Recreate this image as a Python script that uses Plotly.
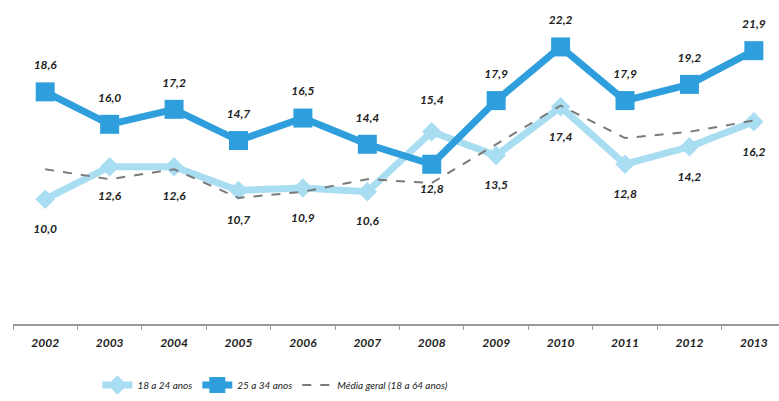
import plotly.graph_objects as go

years = ["2002", "2003", "2004", "2005", "2006", "2007", "2008", "2009", "2010", "2011", "2012", "2013"]
age_18_24 = [10.0, 12.6, 12.6, 10.7, 10.9, 10.6, 15.4, 13.5, 17.4, 12.8, 14.2, 16.2]
age_25_34 = [18.6, 16.0, 17.2, 14.7, 16.5, 14.4, 12.8, 17.9, 22.2, 17.9, 19.2, 21.9]
media_geral = [12.4, 11.6, 12.4, 10.1, 10.6, 11.6, 11.3, 14.4, 17.5, 14.9, 15.4, 16.3]

# label placement per point
pos_18_24 = ["bottom center"] * 6 + ["top center"] + ["bottom center"] * 5
pos_25_34 = ["top center"] * 6 + ["bottom center"] + ["top center"] * 5

names = ["18 a 24 anos", "25 a 34 anos", "Média geral (18 a 64 anos)"]

def fmt(v):
    return f"{v:.1f}".replace(".", ",")

label_font = dict(family="Lato", size=12, color="#222222", weight="bold", style="italic")

fig = go.Figure()
fig.add_trace(go.Scatter(
    x=years, y=age_18_24, name=names[0], mode="lines+markers",
    line=dict(color="#A9DDF1", width=7),
    marker=dict(symbol="diamond", size=15, color="#A9DDF1"),
))
fig.add_trace(go.Scatter(
    x=years, y=age_25_34, name=names[1], mode="lines+markers",
    line=dict(color="#2E9FDC", width=7),
    marker=dict(symbol="square", size=19, color="#2E9FDC"),
))
fig.add_trace(go.Scatter(
    x=years, y=media_geral, name=names[2], mode="lines",
    line=dict(color="#7A7A7A", width=2, dash="dash"),
))
# value labels
fig.add_trace(go.Scatter(
    x=years, y=age_18_24, mode="markers+text", showlegend=False, hoverinfo="skip",
    marker=dict(size=38, opacity=0), text=[fmt(v) for v in age_18_24],
    textposition=pos_18_24, textfont=label_font, cliponaxis=False,
))
fig.add_trace(go.Scatter(
    x=years, y=age_25_34, mode="markers+text", showlegend=False, hoverinfo="skip",
    marker=dict(size=30, opacity=0), text=[fmt(v) for v in age_25_34],
    textposition=pos_25_34, textfont=label_font, cliponaxis=False,
))

fig.update_layout(
    width=779, height=401,
    margin=dict(l=13, r=0, t=0, b=77, autoexpand=False),
    paper_bgcolor="white", plot_bgcolor="white",
    showlegend=True,
    legend=dict(
        orientation="h", xref="container", yref="container",
        x=0.125, xanchor="left", y=0.04, yanchor="middle",
        font=dict(family="Lato", size=10, color="#222222", style="italic"),
        itemwidth=30, tracegroupgap=0,
    ),
    xaxis=dict(
        type="category", range=[-0.5, 11.39], automargin=False,
        showline=True, linecolor="#9A9A9A", linewidth=1.5,
        ticks="outside", tickson="boundaries", ticklen=4, tickcolor="#9A9A9A",
        ticklabelstandoff=7,
        showgrid=False, zeroline=False,
        tickfont=dict(family="Lato", size=12, color="#222222", weight="bold", style="italic"),
    ),
    yaxis=dict(
        range=[0, 25.96], automargin=False, showticklabels=False, showline=False,
        ticks="", showgrid=False, zeroline=False,
    ),
)

fig.write_html("out.html", config={"displayModeBar": False},
               post_script="document.body.style.margin='0';")
